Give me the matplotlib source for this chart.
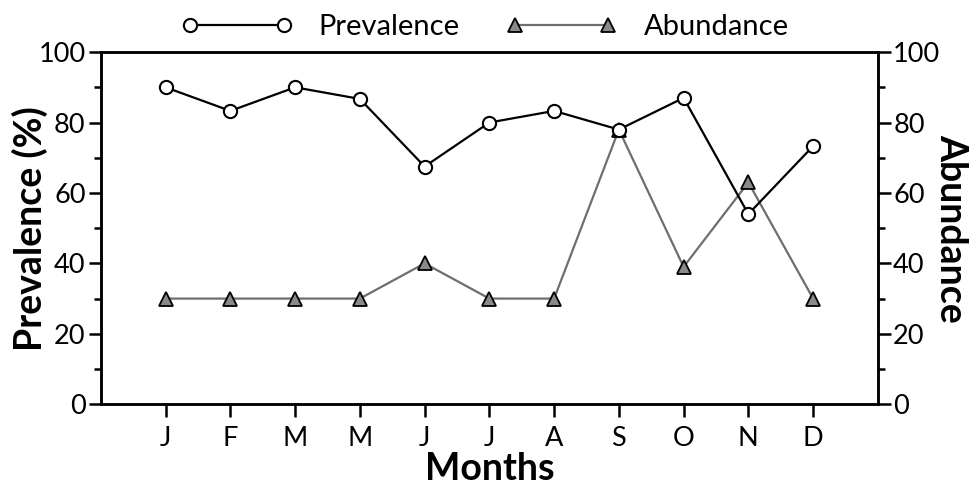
import matplotlib
matplotlib.use("Agg")
import matplotlib.pyplot as plt
from matplotlib.ticker import MultipleLocator

plt.rcParams["font.family"] = ["Lato", "DejaVu Sans"]

months = ["J", "F", "M", "M", "J", "J", "A", "S", "O", "N", "D"]
prevalence = [90, 83.3, 90, 86.7, 67.5, 80, 83.3, 78, 87, 54, 73.3]
abundance = [30, 30, 30, 30, 40, 30, 30, 78, 39, 63, 30]

x = list(range(1, len(months) + 1))

fig = plt.figure(figsize=(9.7, 4.87), dpi=100)
ax = fig.add_axes([0.104, 0.170, 0.801, 0.723])
ax2 = ax.twinx()

l1, = ax.plot(x, prevalence, color="black", lw=1.6, marker="o", ms=9.5,
              mfc="white", mec="black", mew=1.5, zorder=3, label="Prevalence")
l2, = ax2.plot(x, abundance, color="#6e6e6e", lw=1.6, marker="^", ms=10,
               mfc="#8a8a8a", mec="black", mew=1.3, zorder=2, label="Abundance")
ax.set_zorder(ax2.get_zorder() + 1)
ax.patch.set_visible(False)

ax.set_xlim(0, len(months) + 1)
ax.set_ylim(0, 100)
ax2.set_ylim(0, 100)
ax.set_xticks(x)
ax.set_xticklabels(months)

for a in (ax, ax2):
    a.yaxis.set_major_locator(MultipleLocator(20))
    a.yaxis.set_minor_locator(MultipleLocator(10))
    for s in a.spines.values():
        s.set_linewidth(1.8)
    a.tick_params(which="major", length=9, width=1.8, labelsize=19.5, direction="out")
    a.tick_params(which="minor", length=5, width=1.8, direction="out")
ax.tick_params(axis="x", which="major", pad=7)
ax.tick_params(axis="y", pad=2)
ax2.tick_params(axis="y", pad=2)

ax.set_xlabel("Months", fontsize=27, fontweight="bold", va="center")
ax.xaxis.set_label_coords(0.5, -0.183)
ax.set_ylabel("Prevalence (%)", fontsize=27, fontweight="bold", va="center")
ax.yaxis.set_label_coords(-0.092, 0.5)
ax2.set_ylabel("Abundance", fontsize=27, fontweight="bold", rotation=-90, va="center")
ax2.yaxis.set_label_coords(1.095, 0.5)

fig.legend(handles=[l1, l2], loc="upper center", bbox_to_anchor=(0.5, 1.025),
           ncol=2, frameon=False, numpoints=2, fontsize=21, handlelength=3.8,
           columnspacing=1.6, handletextpad=0.9)

fig.savefig("out.png", dpi=100, facecolor="white")
